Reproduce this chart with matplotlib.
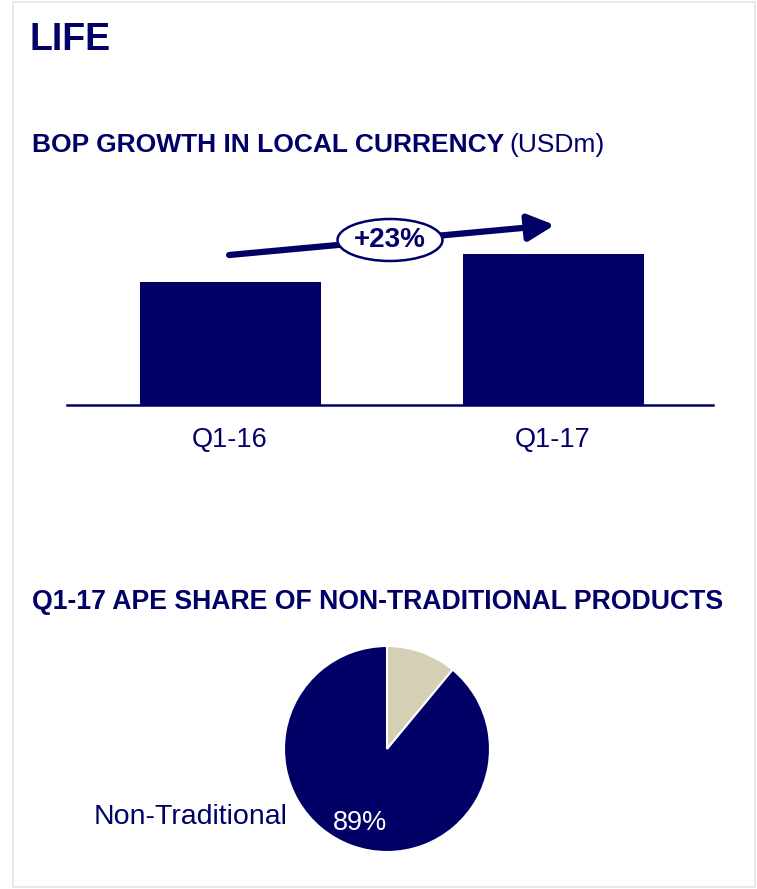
import matplotlib
matplotlib.use('Agg')
import matplotlib.pyplot as plt
from matplotlib.patches import Ellipse, Rectangle

# data
periods = ['Q1-16', 'Q1-17']
bop = [100, 123]          # index, Q1-16 = 100
growth_label = '+23%'
pie_labels = ['Traditional', 'Non-Traditional']
pie_share = [11, 89]

navy = '#000066'
beige = '#d5cfb5'
W, H = 757, 889

plt.rcParams['font.family'] = ['Liberation Sans', 'DejaVu Sans']


def fx(px):
    return px / W


def fy(py):
    return 1 - py / H


fig = plt.figure(figsize=(W / 100, H / 100), dpi=100)

# light frame round the panel
fig.patches.append(Rectangle((fx(13), fy(887)), fx(755) - fx(13), fy(2) - fy(887),
                             transform=fig.transFigure, fill=False,
                             edgecolor='#e5e9e8', lw=1.5))

# titles
fig.text(fx(29), fy(40), 'LIFE', color=navy, fontsize=27, fontweight='bold', va='center')
fig.text(fx(32), fy(145), 'BOP GROWTH IN LOCAL CURRENCY', color=navy,
         fontsize=19, fontweight='bold', va='center')
fig.text(fx(509), fy(145), '(USDm)', color=navy, fontsize=19, va='center')
fig.text(fx(32), fy(602), 'Q1-17 APE SHARE OF NON-TRADITIONAL PRODUCTS', color=navy,
         fontsize=19.2, fontweight='bold', va='center')

# bar chart
ax = fig.add_axes([fx(67), fy(405), fx(713) - fx(67), fy(205) - fy(405)])
ax.bar(range(len(periods)), bop, width=0.56, color=navy)
ax.set_xlim(-0.505, 1.495)
ax.set_ylim(0, 200 / 1.23)
for s in ['top', 'right', 'left']:
    ax.spines[s].set_visible(False)
ax.spines['bottom'].set_color(navy)
ax.spines['bottom'].set_linewidth(1.8)
ax.set_yticks([])
ax.set_xticks(range(len(periods)))
ax.set_xticklabels(periods, fontsize=19.5, color=navy)
ax.tick_params(axis='x', length=0, pad=16)

# growth arrow with ellipse label
ax.annotate('', xy=(0.755, 0.90), xytext=(0.251, 0.75), xycoords='axes fraction',
            arrowprops=dict(arrowstyle='-|>,head_length=0.8,head_width=0.4',
                            lw=4.5, color=navy, mutation_scale=20,
                            shrinkA=0, shrinkB=0))
fig.patches.append(Ellipse((fx(390), fy(240)), 105 / W, 42 / H, transform=fig.transFigure,
                           facecolor='white', edgecolor=navy, lw=1.8, zorder=5))
fig.text(fx(390), fy(240), growth_label, color=navy, fontsize=20, fontweight='bold',
         ha='center', va='center', zorder=6)

# pie
r = 103
pax = fig.add_axes([fx(387 - r), fy(749 + r), 2 * r / W, 2 * r / H])
pax.pie(pie_share, colors=[beige, navy], startangle=90, counterclock=False,
        wedgeprops=dict(edgecolor='white', linewidth=1.5),
        autopct=lambda p: '{:.0f}%'.format(p) if p > 50 else '',
        pctdistance=0.76, textprops=dict(color='white', fontsize=19.5))
pax.set_xlim(-1, 1)
pax.set_ylim(-1, 1)
fig.text(fx(287), fy(817), pie_labels[1], color=navy, fontsize=20.5, ha='right', va='center')

fig.savefig('out.png', dpi=100)
